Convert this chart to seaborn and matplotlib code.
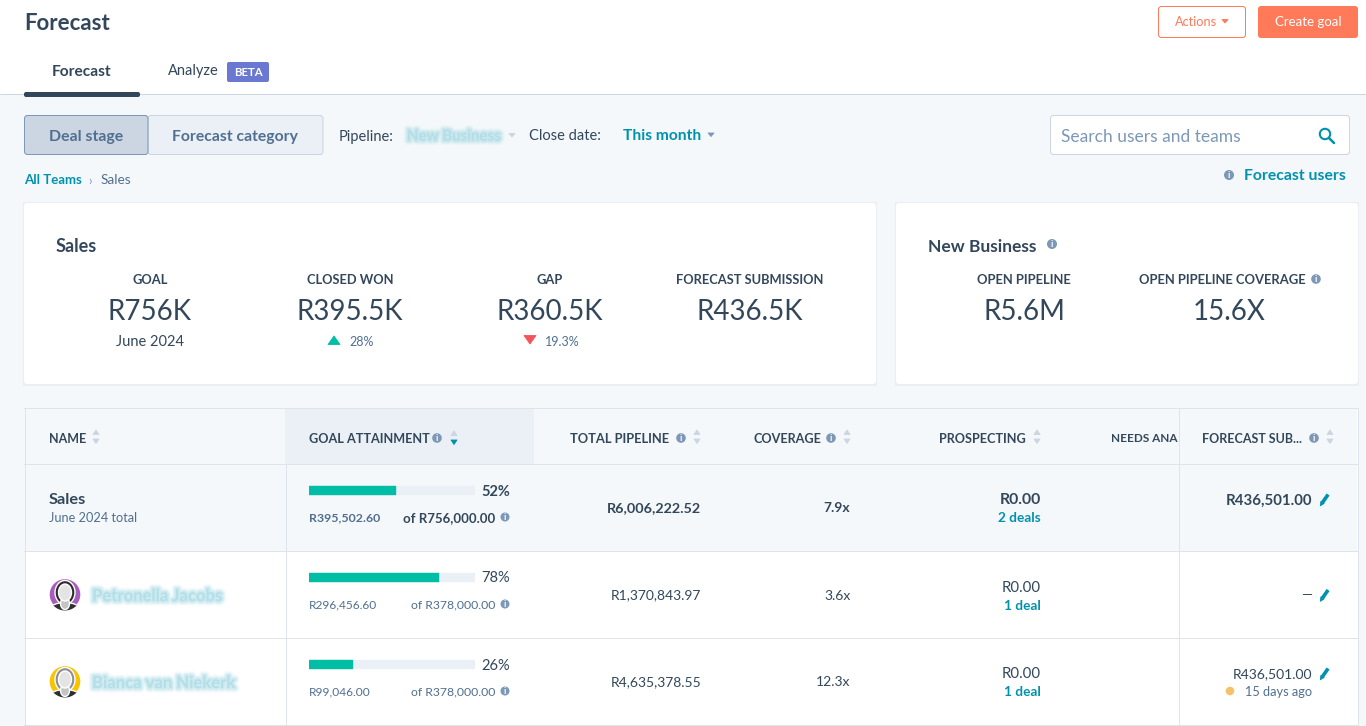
import matplotlib
matplotlib.use("Agg")
import matplotlib.pyplot as plt
import matplotlib.patheffects as pe
from matplotlib.patches import Rectangle, FancyBboxPatch, Circle, Ellipse, Polygon
import pandas as pd
import seaborn as sns

# values
rep_names = ["Sales", "Petronella Jacobs", "Bianca van Niekerk"]
attainment_pct = [52, 78, 26]
closed_won = ["R395,502.60", "R296,456.60", "R99,046.00"]
goal_amounts = ["of R756,000.00", "of R378,000.00", "of R378,000.00"]
total_pipeline = ["R6,006,222.52", "R1,370,843.97", "R4,635,378.55"]
coverage = ["7.9x", "3.6x", "12.3x"]
prospecting = ["R0.00", "R0.00", "R0.00"]
prospecting_deals = ["2 deals", "1 deal", "1 deal"]
forecast_sub = ["R436,501.00", "\u2014", "R436,501.00"]

kpi_labels = ["GOAL", "CLOSED WON", "GAP", "FORECAST SUBMISSION"]
kpi_values = ["R756K", "R395.5K", "R360.5K", "R436.5K"]
pipeline_labels = ["OPEN PIPELINE", "OPEN PIPELINE COVERAGE"]
pipeline_values = ["R5.6M", "15.6X"]

DARK = "#33475b"
MID = "#516f90"
SOFT = "#7c98b6"
TEAL = "#0091ae"
GREEN = "#00bda5"
ORANGE = "#ff7a59"
TRACK = "#eaf0f6"
BORDER = "#cbd6e2"
LINE = "#dfe3eb"
PAGE = "#f5f8fa"
HAIR = 0.72  # one pixel at dpi 100

sns.set_theme(style="white")
plt.rcParams["font.family"] = ["Lato", "DejaVu Sans"]

fig = plt.figure(figsize=(13.66, 7.26), dpi=100, facecolor=PAGE)
ax = fig.add_axes([0, 0, 1, 1])
ax.set_xlim(0, 1366)
ax.set_ylim(726, 0)
ax.axis("off")


def txt(x, y, s, size=9.5, color=DARK, weight="normal", ha="left", **kw):
    return ax.text(x, y, s, fontsize=size, color=color, fontweight=weight, ha=ha,
                   va="center_baseline", **kw)


def rect(x0, y0, x1, y1, fc, ec="none", lw=0.0, z=1):
    ax.add_patch(Rectangle((x0, y0), x1 - x0, y1 - y0, fc=fc, ec=ec, lw=lw, zorder=z))


def box(x0, y0, x1, y1, fc, ec="none", lw=HAIR, r=3, z=1):
    ax.add_patch(FancyBboxPatch((x0 + r, y0 + r), x1 - x0 - 2 * r, y1 - y0 - 2 * r,
                                boxstyle=f"round,pad={r},rounding_size={r}",
                                fc=fc, ec=ec, lw=lw, zorder=z))


def info(x, y, r=4.8, z=6):
    ax.add_patch(Circle((x, y), r, fc=SOFT, ec="none", zorder=z))
    ax.text(x, y + 0.3, "i", fontsize=6.5, color="white", fontweight="bold", ha="center",
            va="center", zorder=z + 1)


def tri(pts, color, z=6):
    ax.add_patch(Polygon(pts, fc=color, ec=color, lw=0.6, joinstyle="round", zorder=z))


def sort_arrows(x, y, low=BORDER, z=6):
    tri([(x - 3, y - 2.5), (x + 3, y - 2.5), (x, y - 7)], BORDER, z)
    tri([(x - 3, y + 2), (x + 3, y + 2), (x, y + 6.5)], low, z)


def pencil(x, y, z=6):
    ax.plot([x - 2, x + 3.6], [y + 3, y - 5], color=TEAL, lw=2.6, solid_capstyle="butt", zorder=z)
    tri([(x - 4.2, y + 6.3), (x - 3.6, y + 1.8), (x - 0.4, y + 4)], TEAL, z)


def blurred(x, y, s, size=11):
    c = "#a9dce7"
    effects = [pe.Stroke(linewidth=w, foreground=c, alpha=a)
               for w, a in [(7, 0.07), (5.5, 0.12), (4, 0.2), (2.6, 0.3)]]
    txt(x, y, s, size=size, color=c, weight="bold", zorder=6, alpha=0.3,
        path_effects=effects + [pe.Normal()])


def caret(x, y, color):
    tri([(x - 3, y - 1.5), (x + 3, y - 1.5), (x, y + 2)], color, 5)


def avatar(cy, ring, hair):
    disc = Circle((65, cy), 16, fc=ring, zorder=5)
    ax.add_patch(disc)
    parts = [
        Ellipse((65, cy - 2), 20, 24, fc=hair, zorder=5.1),
        Ellipse((65, cy + 15), 30, 14, fc="#2f2f2f", zorder=5.2),
        Ellipse((65, cy + 9), 9, 12, fc="#c4c4c4", zorder=5.3),
        Ellipse((65, cy - 2), 13, 17, fc="#e4e4e4", zorder=5.4),
    ]
    for part in parts:
        ax.add_patch(part)
        part.set_clip_path(disc)


# page header
rect(0, 0, 1366, 94, "white")
ax.plot([0, 1366], [93.5, 93.5], color=BORDER, lw=HAIR, zorder=2)
txt(24, 22, "Forecast", size=16, weight="bold")
box(1158.5, 6.5, 1245.5, 37.5, "white", ec=ORANGE)
txt(1175, 21.5, "Actions", size=9.2, color=ORANGE)
caret(1225, 21, ORANGE)
box(1258, 6, 1358, 38, ORANGE)
txt(1308, 21.5, "Create goal", size=9.5, color="white", ha="center", zorder=3)

# tabs
txt(82, 70, "Forecast", size=11.2, weight="bold", ha="center")
txt(168, 70, "Analyze", size=10.5)
box(227, 62, 269, 82, "#6a78d1", r=2)
txt(248, 72, "BETA", size=8.2, color="white", weight="bold", ha="center", zorder=3)
box(24, 92, 140, 97, DARK, r=2, z=3)

# filter row
box(148, 115.5, 323, 154.5, TRACK, ec=BORDER)
box(24.5, 115.5, 148, 154.5, BORDER, ec=SOFT)
txt(86, 135, "Deal stage", size=11.4, color=MID, weight="bold", ha="center", zorder=3)
txt(235, 135, "Forecast category", size=11.3, color=MID, weight="bold", ha="center", zorder=3)
txt(339, 135, "Pipeline:", size=10.5)
blurred(407, 135, "New Business", size=10.8)
caret(512, 135, BORDER)
txt(529, 135, "Close date:", size=10.5)
txt(623, 135, "This month", size=11.2, color=TEAL, weight="bold")
caret(711, 134.5, SOFT)
box(1050.5, 115.5, 1349.5, 154.5, "white", ec=BORDER)
txt(1061, 135, "Search users and teams", size=12.5, color=SOFT, zorder=3)
ax.add_patch(Circle((1325, 134), 5.2, fc="none", ec=TEAL, lw=1.5, zorder=3))
ax.plot([1329, 1334], [138, 143], color=TEAL, lw=1.8, zorder=3)

txt(24, 179.5, "All Teams", size=9.5, color=TEAL, weight="bold")
txt(88, 179.5, "\u203a", size=9, color=SOFT)
txt(101, 179.5, "Sales", size=9.8, color=MID)
info(1229, 175, r=5)
txt(1244, 175, "Forecast users", size=11.3, color=TEAL, weight="bold")

# KPI cards
for x0, x1 in [(24, 876), (896, 1358)]:
    rect(x0 - 1, 202, x1 + 1, 386, "#e9eef3", z=1)
    box(x0, 203, x1, 384, "white", z=2)
txt(56, 245, "Sales", size=13, weight="bold", zorder=3)
txt(928, 245, "New Business", size=12.5, weight="bold", zorder=3)
info(1052, 244, r=5)

for cx, label, value in zip([150, 350, 550, 750], kpi_labels, kpi_values):
    txt(cx, 278.5, label, size=9.3, weight="bold", ha="center", zorder=3)
    txt(cx, 310, value, size=20, ha="center", zorder=3)
txt(150, 340, "June 2024", size=10.5, ha="center", zorder=3)
tri([(328, 344.5), (340, 344.5), (334, 336)], GREEN, 3)
txt(349, 340.5, "28%", size=9, color=MID, zorder=3)
tri([(524, 335.5), (536, 335.5), (530, 344)], "#f2545b", 3)
txt(545, 340.5, "19.3%", size=9, color=MID, zorder=3)

for cx, label in zip([1024, 1222], pipeline_labels):
    txt(cx, 278.5, label, size=9.4, weight="bold", ha="center", zorder=3)
for cx, value in zip([1024, 1229], pipeline_values):
    txt(cx, 310, value, size=20, ha="center", zorder=3)
info(1316, 279)

# table background
rect(24.5, 408.5, 1357.5, 726, "white", z=1)
rect(25, 409, 1357, 551, PAGE, z=1)
rect(285, 409, 534, 464, TRACK, z=2)
for y in [408, 463.5, 550.5, 637.5, 724.5]:
    ax.plot([24, 1358], [y, y], color=LINE, lw=HAIR, zorder=3)
for x in [24.5, 1357.5]:
    ax.plot([x, x], [408, 726], color=LINE, lw=HAIR, zorder=3)
ax.plot([285.5, 285.5], [464, 726], color=LINE, lw=HAIR, zorder=3)

# column headers
txt(49, 438, "NAME", size=9, weight="bold", zorder=6)
sort_arrows(96, 437)
txt(309, 438, "GOAL ATTAINMENT", size=9.05, weight="bold", zorder=6)
info(437, 438)
sort_arrows(454, 438, low=TEAL)
txt(570, 438, "TOTAL PIPELINE", size=9.3, weight="bold", zorder=6)
info(681, 438)
sort_arrows(697, 437)
txt(754, 438, "COVERAGE", size=9.1, weight="bold", zorder=6)
info(831, 438)
sort_arrows(847, 437)
txt(939, 438, "PROSPECTING", size=9.1, weight="bold", zorder=6)
sort_arrows(1037, 437)
txt(1111, 438, "NEEDS ANA", size=8.5, weight="bold", zorder=6)

ax.plot([1178.5, 1178.5], [409, 726], color=LINE, lw=HAIR, zorder=4)
txt(1202, 438, "FORECAST SUB...", size=9, weight="bold", zorder=6)
info(1314, 438)
sort_arrows(1330, 437)

# rows
row_mid = [507.5, 594.5, 681.5]
for i, mid in enumerate(row_mid):
    w = "bold" if i == 0 else "normal"
    txt(510, mid - 17.5, f"{attainment_pct[i]}%", size=10.5, weight=w, ha="right", zorder=6)
    txt(309, mid + 9.5, closed_won[i], size=8.9 if i == 0 else 8.6, color=MID, weight=w, zorder=6)
    txt(495, mid + 9.5, goal_amounts[i], size=9.5 if i == 0 else 8.8,
        color=DARK if i == 0 else MID, weight=w, ha="right", zorder=6)
    info(505, mid + 9.5, r=4.5)
    txt(701, mid, total_pipeline[i], size=10.4 if i == 0 else 10, weight=w, ha="right", zorder=6)
    txt(850.5, mid, coverage[i], size=10, weight=w, ha="right", zorder=6)
    txt(1041, mid - 8.5, prospecting[i], size=11.3 if i == 0 else 10.8, weight=w, ha="right", zorder=6)
    txt(1041, mid + 10, prospecting_deals[i], size=9.8, color=TEAL, weight="bold", ha="right", zorder=6)
    fy = mid - 8.5 if i != 1 else mid
    txt(1312, fy, forecast_sub[i], size=10.8 if i == 0 else 10, weight=w, ha="right", zorder=6)
    pencil(1324.5, fy + 0.5)

txt(49, 499, rep_names[0], size=11.8, weight="bold", zorder=6)
txt(49, 517, "June 2024 total", size=9.2, color=MID, zorder=6)
ax.add_patch(Circle((1230, 691), 5, fc="#f5c26b", zorder=6))
txt(1312, 691.5, "15 days ago", size=9.2, color=MID, ha="right", zorder=6)

# avatars and blurred names
avatar(594.5, "#a95cc0", "#2b2b2b")
avatar(681.5, "#f7c400", "#8f8f8f")
blurred(92, 594.5, rep_names[1], size=12)
blurred(92, 681.5, rep_names[2], size=12)

# progress bars
bars = pd.DataFrame({"rep": rep_names, "pct": attainment_pct, "goal": [100] * len(rep_names)})
bar_ax = fig.add_axes([309 / 1366, 1 - 707.5 / 726, 166 / 1366, 261 / 726], zorder=5)
bar_ax.patch.set_alpha(0)
sns.barplot(data=bars, y="rep", x="goal", color=TRACK, width=8.6 / 87, saturation=1,
            edgecolor=TRACK, linewidth=1, ax=bar_ax)
sns.barplot(data=bars, y="rep", x="pct", color=GREEN, width=8.6 / 87, saturation=1,
            edgecolor=GREEN, linewidth=1, ax=bar_ax)
for p in bar_ax.patches:
    p.set_joinstyle("round")
bar_ax.set_xlim(0, 100)
bar_ax.axis("off")

fig.savefig("out.png", dpi=100, facecolor=PAGE)
